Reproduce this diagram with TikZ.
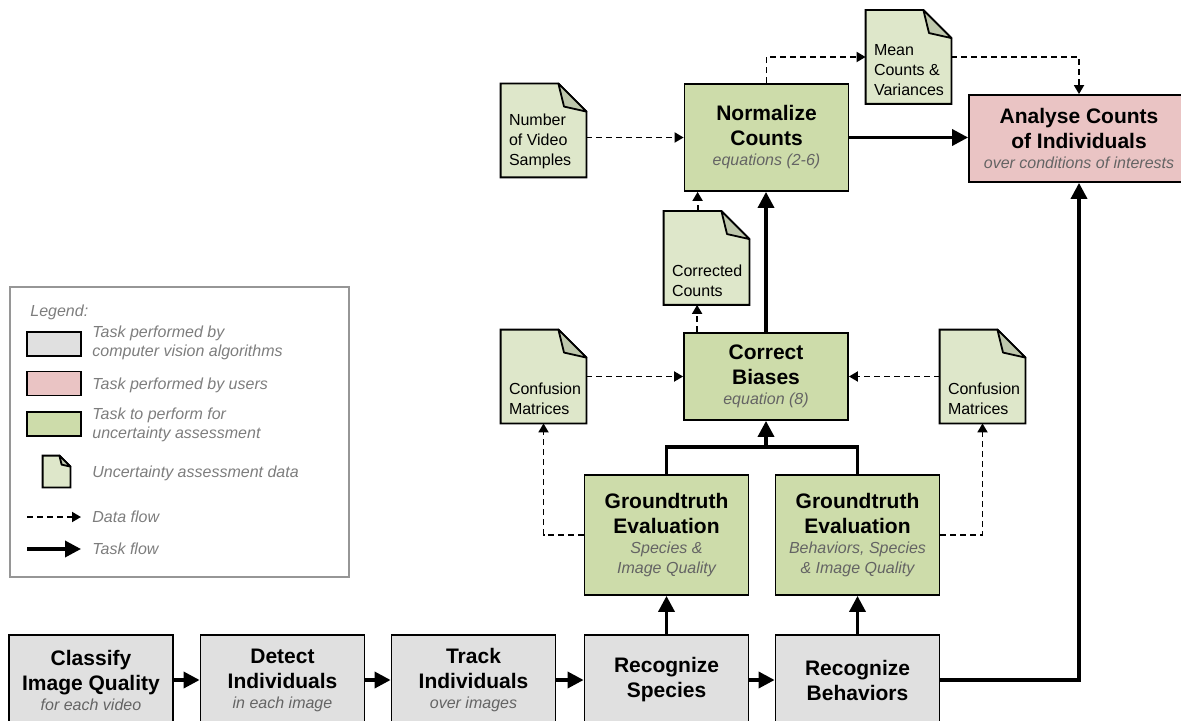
\documentclass[tikz,border=0pt]{standalone}
\usepackage{fontspec}
\setmainfont{Liberation Sans}
\usetikzlibrary{arrows.meta,backgrounds}
\definecolor{cvgray}{RGB}{224,224,224}
\definecolor{usrpink}{RGB}{234,196,196}
\definecolor{uagreen}{RGB}{205,220,170}
\definecolor{docgreen}{RGB}{222,231,202}
\definecolor{foldgreen}{RGB}{190,199,172}
\definecolor{subgray}{RGB}{100,100,100}
\definecolor{leggray}{RGB}{125,125,125}
\definecolor{legframe}{RGB}{150,150,150}
\newcommand{\subline}[1]{{\fontsize{8}{10}\selectfont\mdseries\itshape\color{subgray}#1}}
\begin{document}
\begin{tikzpicture}[x=0.5pt,y=-0.5pt,
        task/.style={draw,line width=0.9pt,minimum width=82pt,align=center,inner sep=2pt,font=\fontsize{10.5}{12.5}\selectfont\bfseries},
        cvtask/.style={task,fill=cvgray,minimum height=45pt},
        uatask/.style={task,fill=uagreen},
        usrtask/.style={task,fill=usrpink,minimum width=110pt,minimum height=43.5pt},
        docbox/.style={minimum width=42.5pt,minimum height=46.5pt,inner sep=0pt},
        doctext/.style={anchor=south west,align=left,inner sep=0pt,font=\fontsize{8}{10}\selectfont},
        legtext/.style={anchor=west,align=left,inner sep=0pt,font=\fontsize{8}{9.5}\selectfont\itshape,text=leggray},
        swatch/.style={draw,line width=0.9pt,minimum width=27pt,minimum height=12pt,inner sep=0pt},
        taskflow/.style={line width=1.75pt,-{Triangle[length=8pt,width=8pt]}},
        dataflow/.style={line width=0.9pt,dash pattern=on 3pt off 2pt,-{Triangle[length=4.5pt,width=5pt]}}]
                \useasboundingbox (0,0) rectangle (1181,721);
                \node[cvtask] (cls) at (91,680) {Classify\\Image Quality\\[-2.5pt]\subline{for each video}};
                \node[cvtask] (det) at (282.5,680) {Detect\\Individuals\\[-2.5pt]\subline{in each image}};
                \node[cvtask] (trk) at (473.5,680) {Track\\Individuals\\[-2.5pt]\subline{over images}};
                \node[cvtask] (spe) at (666.5,680) {Recognize\\Species};
                \node[cvtask] (beh) at (857.5,680) {Recognize\\Behaviors};
                \node[uatask,minimum height=60pt] (gt1) at (666.5,535) {Groundtruth\\Evaluation\\[-2.5pt]\subline{Species \&}\\[-2.5pt]\subline{Image Quality}};
                \node[uatask,minimum height=60pt] (gt2) at (857.5,535) {Groundtruth\\Evaluation\\[-2.5pt]\subline{Behaviors, Species}\\[-2.5pt]\subline{\& Image Quality}};
                \node[uatask,minimum height=43.5pt] (cb) at (766,376.5) {Correct\\Biases\\[-2.5pt]\subline{equation (8)}};
                \node[uatask,minimum height=53.5pt] (norm) at (766.5,137.5) {Normalize\\Counts\\[-2.5pt]\subline{equations (2-6)}};
                \node[usrtask] (ana) at (1079,138.5) {Analyse Counts\\of Individuals\\[-2.5pt]\subline{over conditions of interests}};
                \node[docbox] (nvs) at (543.5,130.5) {};
                \node[doctext] (nvs-t) at ([shift={(4pt,4pt)}]nvs.south west) {Number\\of Video\\Samples};
                \node[docbox] (mcv) at (908.5,57) {};
                \node[doctext] (mcv-t) at ([shift={(4pt,4pt)}]mcv.south west) {Mean\\Counts \&\\Variances};
                \node[docbox] (cc) at (706.5,258) {};
                \node[doctext] (cc-t) at ([shift={(4pt,4pt)}]cc.south west) {Corrected\\Counts};
                \node[docbox] (cml) at (543.5,376.5) {};
                \node[doctext] (cml-t) at ([shift={(4pt,4pt)}]cml.south west) {Confusion\\Matrices};
                \node[docbox] (cmr) at (982.5,376.5) {};
                \node[doctext] (cmr-t) at ([shift={(4pt,4pt)}]cmr.south west) {Confusion\\Matrices};
                \node[draw=legframe,line width=0.75pt,minimum width=169.5pt,minimum height=145pt,inner sep=0pt] (legend) at (179.5,432) {};
                \node[legtext] (leg-head) at (30,312) {Legend:};
                \node[swatch,fill=cvgray] (leg-cv) at (54,344) {};
                \node[legtext] (leg-cv-t) at (92,342.5) {Task performed by\\computer vision algorithms};
                \node[swatch,fill=usrpink] (leg-usr) at (54,383.5) {};
                \node[legtext] (leg-usr-t) at (92,385) {Task performed by users};
                \node[swatch,fill=uagreen] (leg-ua) at (54,424) {};
                \node[legtext] (leg-ua-t) at (92,424.5) {Task to perform for\\uncertainty assessment};
                \node[docbox,minimum width=13.5pt,minimum height=15.5pt] (leg-doc) at (56.5,471.5) {};
                \node[legtext] (leg-doc-t) at (92,473) {Uncertainty assessment data};
                \coordinate (leg-d0) at (27,517);
                \coordinate (leg-d1) at (81,517);
                \node[legtext] (leg-d-t) at (92,517) {Data flow};
                \coordinate (leg-t0) at (27,549);
                \coordinate (leg-t1) at (81,549);
                \node[legtext] (leg-t-t) at (92,549) {Task flow};
                \begin{scope}[on background layer]
                    \foreach \d/\f in {nvs/14pt,mcv/14pt,cc/14pt,cml/14pt,cmr/14pt,leg-doc/5.5pt}{
                        \draw[line width=0.9pt,fill=docgreen] (\d.south west) -- (\d.north west) -- ([xshift=-\f]\d.north east) -- ([yshift=-\f]\d.north east) -- (\d.south east) -- cycle;
                        \draw[line width=0.9pt,fill=foldgreen,line join=round] ([xshift=-\f]\d.north east) -- ([shift={(-0.8*\f,-0.82*\f)}]\d.north east) -- ([yshift=-\f]\d.north east) -- cycle;
                    }
                \end{scope}
                \foreach \a/\b in {cls/det,det/trk,trk/spe,spe/beh}{
                    \draw[taskflow] (\a) -- (\b);
                }
                \draw[taskflow] (spe) -- (gt1);
                \draw[taskflow] (beh) -- (gt2);
                \coordinate (merge) at (766,447);
                \draw[line width=1.75pt] (gt1.north) |- (merge) -| (gt2.north);
                \draw[taskflow] (merge) -- (cb.south);
                \draw[taskflow] (cb.north) -- (cb.north |- norm.south);
                \draw[taskflow] (norm.east) -- (norm.east -| ana.west);
                \draw[taskflow] (beh.east) -| (ana.south);
                \coordinate (cb-tap) at ([xshift=7pt]cb.north west);
                \coordinate (norm-tap) at ([xshift=7pt]norm.south west);
                \draw[dataflow] (nvs.east |- norm.west) -- (norm.west);
                \draw[dataflow] (cml.east) -- (cb.west);
                \draw[dataflow] (cmr.west) -- (cb.east);
                \draw[dataflow] (gt1.west) -| (cml.south);
                \draw[dataflow] (gt2.east) -| (cmr.south);
                \draw[dataflow] (cb-tap) -- (cb-tap |- cc.south);
                \draw[dataflow] (cc.north -| norm-tap) -- (norm-tap);
                \draw[dataflow] (norm.north) |- (mcv.west);
                \draw[dataflow] (mcv.east) -| (ana.north);
                \draw[dataflow] (leg-d0) -- (leg-d1);
                \draw[taskflow] (leg-t0) -- (leg-t1);
\end{tikzpicture}
\end{document}
